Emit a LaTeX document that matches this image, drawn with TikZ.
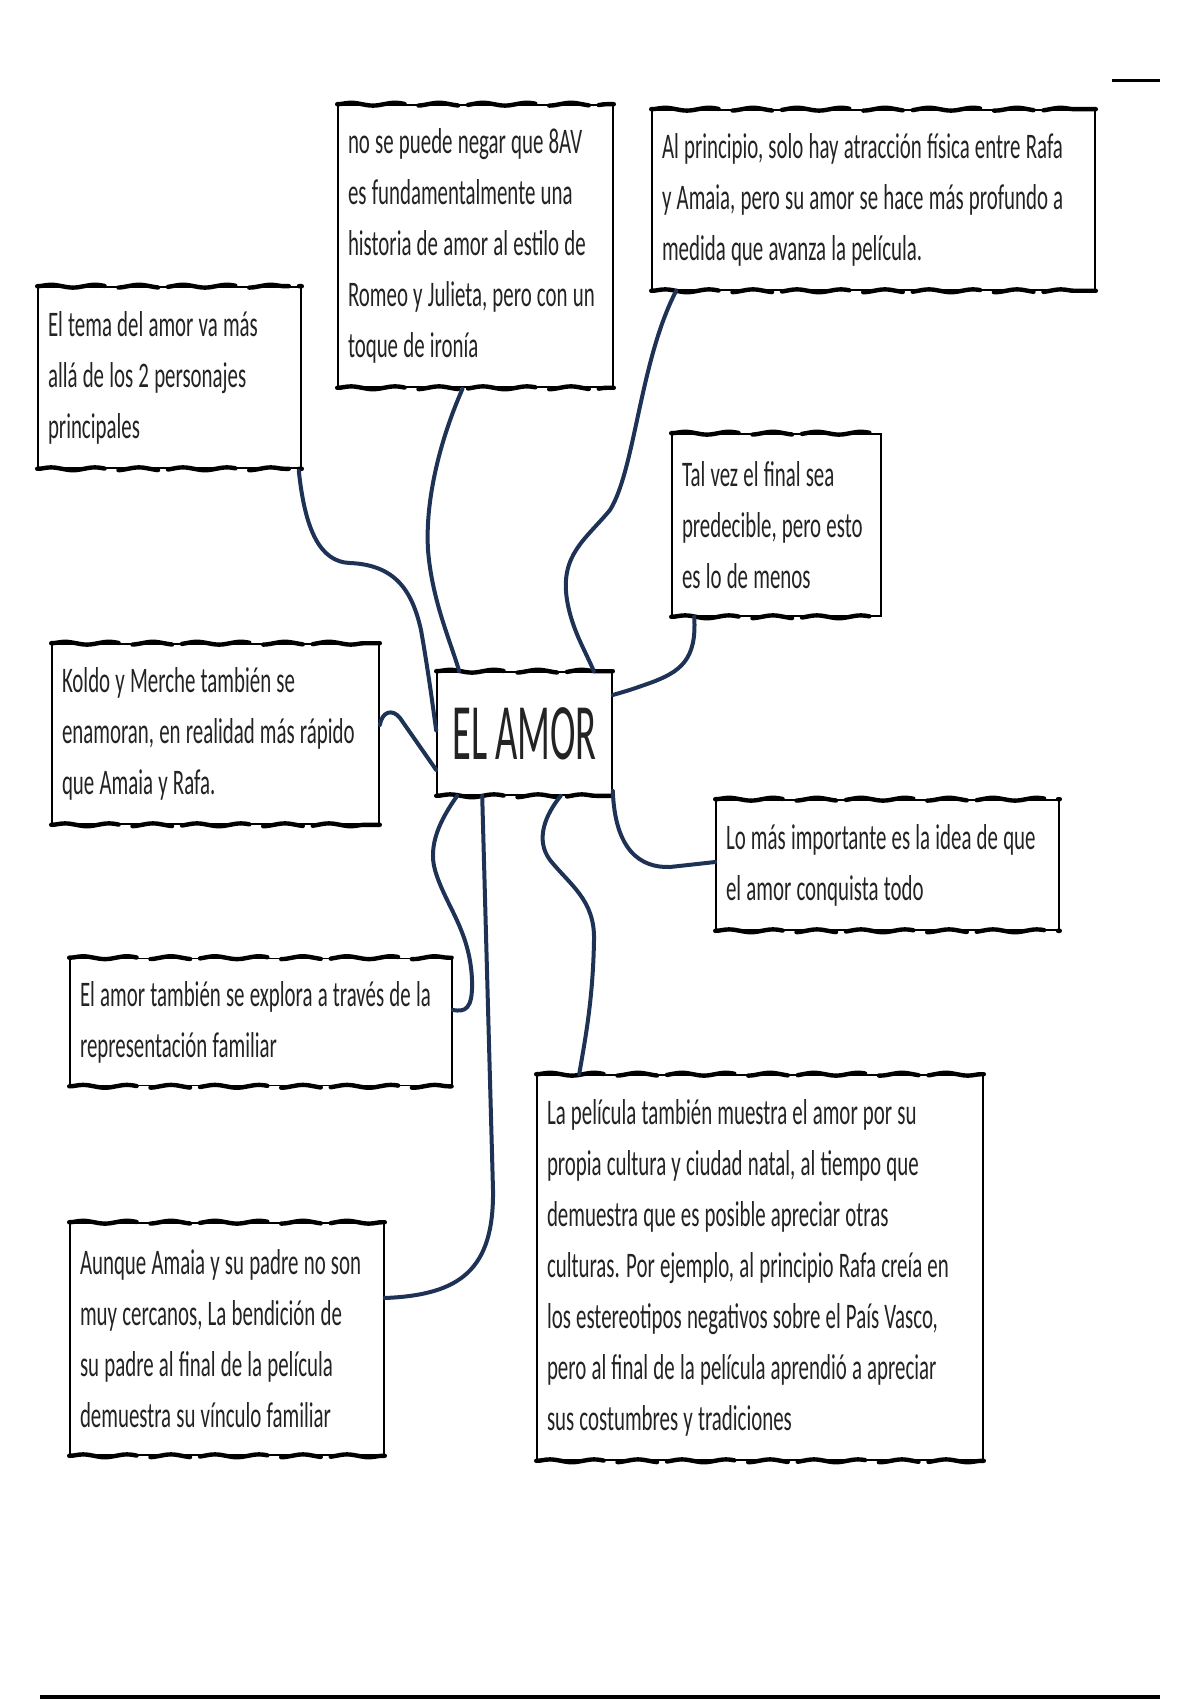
\documentclass[tikz,border=0pt]{standalone}
\usepackage{fontspec}
\setmainfont[FakeStretch=0.58]{Carlito}
\newfontfamily\amorfont[FakeStretch=0.48]{Carlito}
\usepackage{tikz}
\usetikzlibrary{calc,decorations.pathmorphing}

\definecolor{linkblue}{RGB}{30,50,85}
\definecolor{inkgray}{RGB}{35,35,35}

\newcommand{\narrowspace}{\spaceskip=2.6pt plus 1pt minus 0.6pt\xspaceskip=3.2pt\relax}
\newcommand{\amorspace}{\spaceskip=4pt\relax}
\newcommand{\amorsize}{\amorfont\fontsize{40}{40}\selectfont}

\tikzset{
  idea/.style={draw=black, line width=0.8pt, fill=white, inner xsep=5pt, inner ysep=2pt,
    align=left, text=inkgray, font=\fontsize{18}{25.5}\selectfont,
    execute at begin node=\narrowspace},
  blotch/.style={line width=2.2pt, line cap=round, decorate,
    decoration={snake, amplitude=0.7pt, segment length=22pt},
    dash pattern=on 34pt off 7pt on 20pt off 5pt},
  link/.style={draw=linkblue, line width=2pt, line cap=round}
}

\newcommand{\roughedges}[1]{%
  \draw[blotch] (#1.north west) -- (#1.north east);
  \draw[blotch] (#1.south west) -- (#1.south east);}

\begin{document}
\begin{tikzpicture}[x=0.5pt, y=-0.5pt]
\useasboundingbox (0,0) rectangle (1200,1700);

\coordinate (cA) at (350,563);
\coordinate (cB) at (428,550);
\coordinate (cC) at (610,510);
\coordinate (cI) at (550,860);

\node[idea, minimum width=137.5pt, minimum height=141pt, text width=127.5pt] (nosepuede) at (475.5,246)
  {no se puede negar que 8AV\\ es fundamentalmente una\\ historia de amor al estilo de\\ Romeo y Julieta, pero con un\\ toque de ironía};
\node[idea, minimum width=221.5pt, minimum height=90pt, text width=211.5pt] (principio) at (873.5,200)
  {Al principio, solo hay atracción física entre Rafa\\ y Amaia, pero su amor se hace más profundo a\\ medida que avanza la película.};
\node[idea, minimum width=131.5pt, minimum height=90.5pt, text width=121.5pt] (tema) at (169.5,377.5)
  {El tema del amor va más\\ allá de los 2 personajes\\ principales};
\node[idea, minimum width=104.5pt, minimum height=91pt, text width=94.5pt] (talvez) at (776.5,525)
  {Tal vez el final sea\\ predecible, pero esto\\ es lo de menos};
\node[idea, minimum width=163.5pt, minimum height=90pt, text width=153.5pt] (koldo) at (215.5,734)
  {Koldo y Merche también se\\ enamoran, en realidad más rápido\\ que Amaia y Rafa.};
\node[idea, minimum width=87.5pt, minimum height=61.5pt, inner xsep=2pt, align=center, font=\amorsize,
  execute at begin node=\amorspace] (amor) at (524.5,733.5)
  {EL AMOR};
\node[idea, minimum width=171.5pt, minimum height=65pt, text width=161.5pt] (lomas) at (887.5,865)
  {Lo más importante es la idea de que\\ el amor conquista todo};
\node[idea, minimum width=191pt, minimum height=63.5pt, text width=181pt] (explora) at (261,1022)
  {El amor también se explora a través de la\\ representación familiar};
\node[idea, minimum width=223pt, minimum height=192.5pt, text width=213pt] (pelicula) at (760,1267.5)
  {La película también muestra el amor por su\\ propia cultura y ciudad natal, al tiempo que\\ demuestra que es posible apreciar otras\\ culturas. Por ejemplo, al principio Rafa creía en\\ los estereotipos negativos sobre el País Vasco,\\ pero al final de la película aprendió a apreciar\\ sus costumbres y tradiciones};
\node[idea, minimum width=157pt, minimum height=116pt, text width=147pt] (aunque) at (227,1339)
  {Aunque Amaia y su padre no son\\ muy cercanos, La bendición de\\ su padre al final de la película\\ demuestra su vínculo familiar};

\foreach \n in {nosepuede,principio,tema,talvez,koldo,amor,lomas,explora,pelicula,aunque}
  \roughedges{\n};

\draw[link] ($(tema.south east)+(-3,2)$) .. controls (305,530) and (320,562) .. (cA)
  .. controls (395,565) and (412,590) .. (421,630) .. controls (428,670) and (432,700) .. ($(amor.west)+(0,-3)$);
\draw[link] ($(nosepuede.south)+(-13,1)$) .. controls (440,440) and (425,500) .. (cB)
  .. controls (432,600) and (450,640) .. ($(amor.north west)+(23,0)$);
\draw[link] ($(principio.south west)+(25,0)$) .. controls (640,360) and (635,470) .. (cC)
  .. controls (585,540) and (560,555) .. (567,600) .. controls (572,630) and (585,650) .. ($(amor.north east)+(-19,0)$);
\draw[link] ($(talvez.south west)+(23,0)$) .. controls (697,660) and (680,672) .. (650,683)
  .. controls (630,690) .. ($(amor.east)+(0,-38.5)$);
\draw[link] ($(koldo.east)+(0,-9)$) .. controls (382,712) and (392,708) .. (400,718) -- ($(amor.west)+(0,36.5)$);
\draw[link] ($(amor.south east)+(0,-5)$) .. controls (615,850) and (640,868) .. (670,867) -- ($(lomas.west)+(0,-3)$);
\draw[link] ($(amor.south west)+(21,0)$) .. controls (440,820) and (428,845) .. (435,870)
  .. controls (445,905) and (470,930) .. (472,980) .. controls (473,1010) and (465,1012) .. ($(explora.east)+(0,-12)$);
\draw[link] ($(amor.south west)+(46,0)$) -- (493,1190) .. controls (494,1270) and (460,1295) .. ($(aunque.east)+(0,-41)$);
\draw[link] ($(amor.south east)+(-52,0)$) .. controls (545,815) and (535,840) .. (cI)
  .. controls (570,885) and (595,900) .. (594,940) .. controls (593,1000) and (585,1040) .. ($(pelicula.north west)+(43,0)$);

% page marks
\coordinate (dashL) at (1112,81);
\coordinate (dashR) at (1160,81);
\draw[line width=1.5pt] (dashL) -- (dashR);
\coordinate (ruleL) at (40,1697);
\coordinate (ruleR) at (1160,1697);
\draw[line width=2pt] (ruleL) -- (ruleR);

\end{tikzpicture}
\end{document}
